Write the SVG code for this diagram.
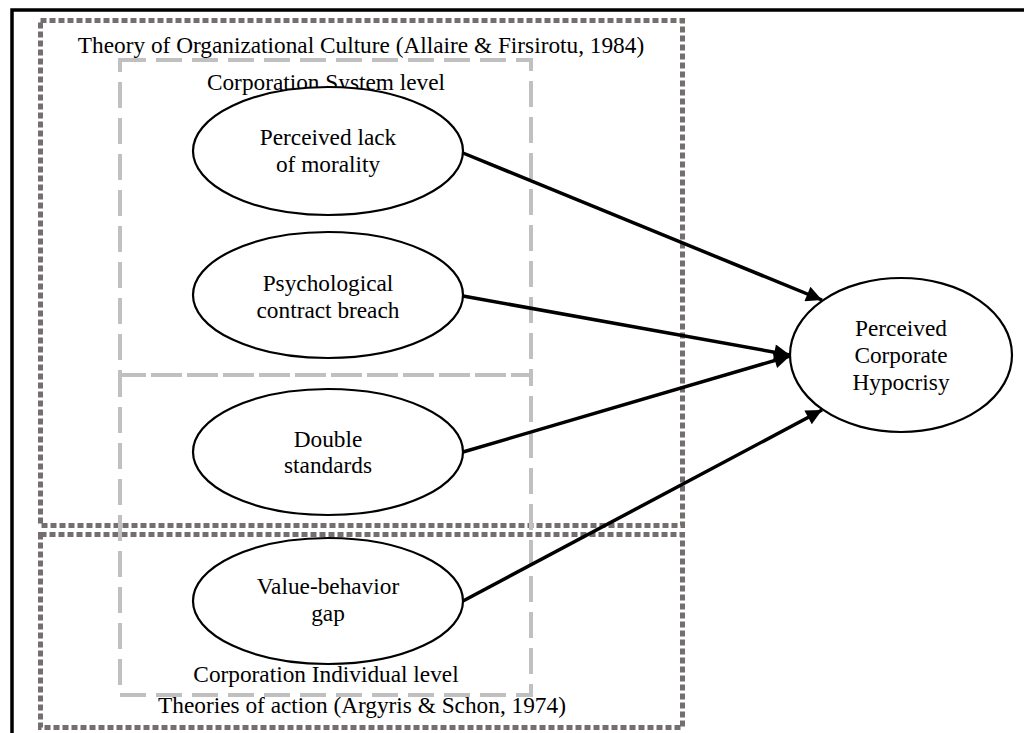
<svg xmlns="http://www.w3.org/2000/svg" width="1024" height="733" viewBox="0 0 1024 733">
<style>
.t{font-family:"Liberation Serif","Times New Roman",serif;font-size:23.3px;fill:#000;text-anchor:middle}
.dot{fill:none;stroke:#746e6e;stroke-width:5;stroke-dasharray:6 3}
.dash{fill:none;stroke:#c0c0c0;stroke-width:4;stroke-dasharray:26 10}
.node{fill:#fff;stroke:#000;stroke-width:2.2}
.conn{stroke:#000;stroke-width:3.5;fill:none;marker-end:url(#ah)}
</style>
<defs>
<marker id="ah" viewBox="0 0 10 10" refX="10" refY="5" markerWidth="5.5" markerHeight="4.5" markerUnits="strokeWidth" orient="auto">
<path d="M0,0 L10,5 L0,10 z" fill="#000"/>
</marker>
</defs>
<rect x="0" y="0" width="1024" height="733" fill="#fff"/>
<rect x="12" y="10" width="1100" height="1000" fill="none" stroke="#000" stroke-width="3.5"/>
<g id="group-org-culture">
<rect class="dot" x="40.5" y="20.5" width="642" height="505"/>
<text class="t" x="361" y="53">Theory of Organizational Culture (Allaire &amp; Firsirotu, 1984)</text>
</g>
<g id="group-action">
<rect class="dot" x="40.5" y="534.5" width="642" height="193"/>
<text class="t" x="362" y="713">Theories of action (Argyris &amp; Schon, 1974)</text>
</g>
<g id="group-system">
<rect class="dash" x="120" y="60" width="411" height="315"/>
<text class="t" x="326" y="90">Corporation System level</text>
</g>
<g id="group-individual">
<rect class="dash" x="120" y="375" width="411" height="320"/>
<text class="t" x="326" y="682">Corporation Individual level</text>
</g>
<g id="connectors">
<line class="conn" x1="463" y1="153" x2="822" y2="300"/>
<line class="conn" x1="463" y1="296" x2="790" y2="355"/>
<line class="conn" x1="463" y1="452" x2="790" y2="356"/>
<line class="conn" x1="463" y1="601" x2="822" y2="410"/>
</g>
<g id="node-morality">
<ellipse class="node" cx="328" cy="151" rx="135" ry="64"/>
<text class="t" x="328" y="145">Perceived lack</text>
<text class="t" x="328" y="172">of morality</text>
</g>
<g id="node-contract">
<ellipse class="node" cx="328" cy="295" rx="135" ry="63"/>
<text class="t" x="328" y="291">Psychological</text>
<text class="t" x="328" y="318">contract breach</text>
</g>
<g id="node-double">
<ellipse class="node" cx="328" cy="452" rx="135" ry="63"/>
<text class="t" x="328" y="447">Double</text>
<text class="t" x="328" y="473">standards</text>
</g>
<g id="node-gap">
<ellipse class="node" cx="328" cy="601" rx="135" ry="63"/>
<text class="t" x="328" y="594">Value-behavior</text>
<text class="t" x="328" y="621">gap</text>
</g>
<g id="node-hypocrisy">
<ellipse class="node" cx="901" cy="355" rx="111" ry="77"/>
<text class="t" x="901" y="336">Perceived</text>
<text class="t" x="901" y="363">Corporate</text>
<text class="t" x="901" y="390">Hypocrisy</text>
</g>
</svg>
